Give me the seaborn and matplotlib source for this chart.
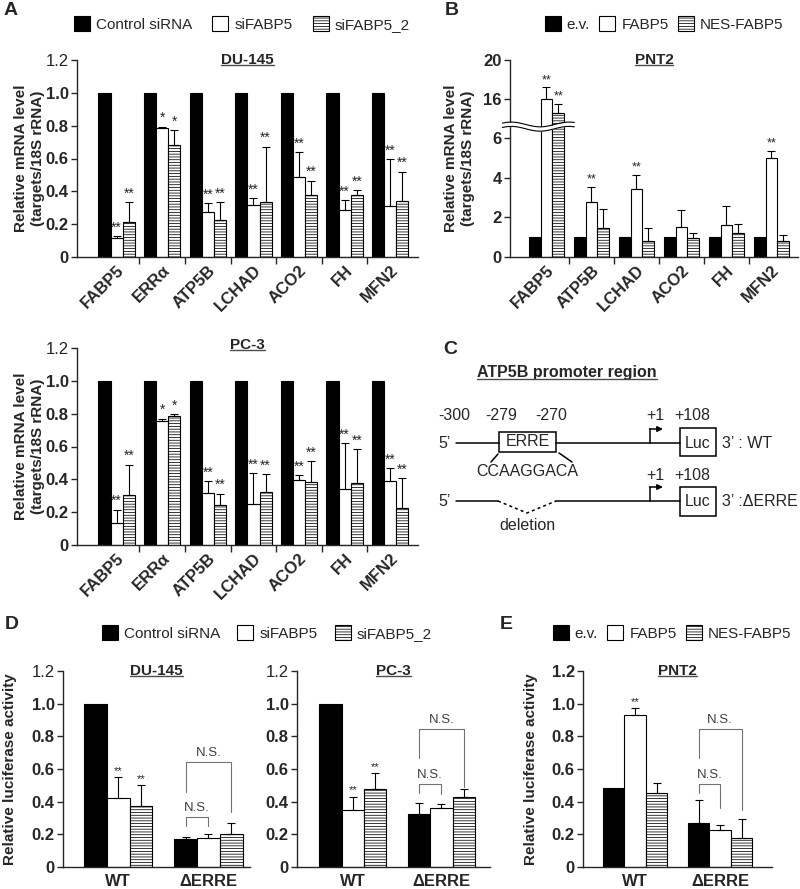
import numpy as np
import pandas as pd
import matplotlib
matplotlib.use("Agg")
import matplotlib.pyplot as plt
import matplotlib.transforms as mtransforms
from matplotlib.patches import Patch, Rectangle
from matplotlib.lines import Line2D
from matplotlib.ticker import FuncFormatter
import seaborn as sns

# -------------------
# Data
genes_A = ["FABP5", "ERRα", "ATP5B", "LCHAD", "ACO2", "FH", "MFN2"]
groups_si = ["Control siRNA", "siFABP5", "siFABP5_2"]

du145_ctrl = [1.0, 1.0, 1.0, 1.0, 1.0, 1.0, 1.0]
du145_si1 = [0.116, 0.786, 0.276, 0.316, 0.490, 0.286, 0.310]
du145_si1_sd = [0.011, 0.008, 0.051, 0.045, 0.147, 0.061, 0.288]
du145_si2 = [0.214, 0.680, 0.224, 0.333, 0.380, 0.378, 0.341]
du145_si2_sd = [0.119, 0.093, 0.109, 0.340, 0.085, 0.030, 0.179]
du145_si1_sig = ["**", "*", "**", "**", "**", "**", "**"]
du145_si2_sig = ["**", "*", "**", "**", "**", "**", "**"]

pc3_ctrl = [1.0, 1.0, 1.0, 1.0, 1.0, 1.0, 1.0]
pc3_si1 = [0.135, 0.754, 0.317, 0.248, 0.398, 0.343, 0.390]
pc3_si1_sd = [0.081, 0.016, 0.073, 0.192, 0.030, 0.279, 0.080]
pc3_si2 = [0.303, 0.784, 0.246, 0.323, 0.384, 0.376, 0.228]
pc3_si2_sd = [0.187, 0.014, 0.067, 0.111, 0.129, 0.210, 0.182]
pc3_si1_sig = ["**", "*", "**", "**", "**", "**", "**"]
pc3_si2_sig = ["**", "*", "**", "**", "**", "**", "**"]

genes_B = ["FABP5", "ATP5B", "LCHAD", "ACO2", "FH", "MFN2"]
groups_oe = ["e.v.", "FABP5", "NES-FABP5"]
pnt2_ev = [1.0, 1.0, 1.0, 1.0, 1.0, 1.0]
pnt2_fabp5 = [16.0, 2.80, 3.45, 1.52, 1.61, 4.99]
pnt2_fabp5_sd = [1.2, 0.74, 0.70, 0.86, 0.95, 0.38]
pnt2_nes = [14.6, 1.49, 0.80, 0.94, 1.21, 0.80]
pnt2_nes_sd = [0.9, 0.95, 0.65, 0.27, 0.48, 0.33]
pnt2_fabp5_sig = ["**", "**", "**", "", "", "**"]
pnt2_nes_sig = ["**", "", "", "", "", ""]

constructs = ["WT", "ΔERRE"]
luc_du145_ctrl = [1.0, 0.173]
luc_du145_ctrl_sd = [np.nan, 0.011]
luc_du145_si1 = [0.424, 0.180]
luc_du145_si1_sd = [0.127, 0.024]
luc_du145_si2 = [0.373, 0.204]
luc_du145_si2_sd = [0.127, 0.067]
luc_du145_sig = ["**", ""]

luc_pc3_ctrl = [1.0, 0.323]
luc_pc3_ctrl_sd = [np.nan, 0.069]
luc_pc3_si1 = [0.347, 0.360]
luc_pc3_si1_sd = [0.084, 0.026]
luc_pc3_si2 = [0.476, 0.427]
luc_pc3_si2_sd = [0.098, 0.051]
luc_pc3_sig = ["**", ""]

luc_pnt2_ev = [0.484, 0.269]
luc_pnt2_ev_sd = [np.nan, 0.139]
luc_pnt2_fabp5 = [0.929, 0.229]
luc_pnt2_fabp5_sd = [0.044, 0.030]
luc_pnt2_nes = [0.455, 0.180]
luc_pnt2_nes_sd = [0.059, 0.112]
luc_pnt2_fabp5_sig = ["**", ""]

# N.S. brackets on the ΔERRE group: (left series, right series, top, left leg end, right leg end)
ns_du145 = [(0, 1, 0.306, 0.25, 0.25), (0, 2, 0.643, 0.46, 0.337)]
ns_pc3 = [(0, 1, 0.508, 0.453, 0.45), (0, 2, 0.845, 0.667, 0.49)]
ns_pnt2 = [(0, 1, 0.508, 0.453, 0.36), (0, 2, 0.845, 0.667, 0.349)]

# -------------------
# Style
sns.set_style("ticks")
plt.rcParams["font.family"] = ["Liberation Sans", "DejaVu Sans"]
plt.rcParams["hatch.linewidth"] = 0.55
plt.rcParams["axes.linewidth"] = 1.0

W, H = 800, 889
fig = plt.figure(figsize=(W / 100, H / 100), dpi=100)
HATCH = "------"
bar_colors = ["black", "white", "white"]
TICK_FS = 12


def frame(l, t, r, b):
    return [l / W, 1 - b / H, (r - l) / W, (b - t) / H]


def tick_fmt(v, pos):
    return "0" if abs(v) < 1e-9 else f"{v:.1f}"


def draw_bars(ax, cats, groups, series, sds, sigs, width, star_size):
    df = pd.DataFrame({
        "cat": np.tile(cats, len(groups)),
        "grp": np.repeat(groups, len(cats)),
        "val": np.concatenate([np.asarray(s, float) for s in series]),
    })
    sns.barplot(data=df, x="cat", y="val", hue="grp", order=cats, hue_order=groups,
                palette=bar_colors, edgecolor="black", linewidth=0.8, width=width,
                errorbar=None, saturation=1, legend=False, ax=ax)
    bars = list(ax.containers[:len(groups)])
    for bar in bars[2]:
        bar.set_hatch(HATCH)
    for k, cont in enumerate(bars):
        sd = sds[k]
        sig = sigs[k]
        for j, bar in enumerate(cont):
            xc = bar.get_x() + bar.get_width() / 2
            top = bar.get_height()
            if sd is not None and not np.isnan(sd[j]):
                ax.errorbar([xc], [top], yerr=[[0], [sd[j]]], fmt="none", ecolor="black",
                            elinewidth=0.8, capsize=2.8, capthick=0.8, zorder=3)
                top = top + sd[j]
            if sig is not None and sig[j]:
                ax.annotate(sig[j], (xc, top), xytext=(0, 1), textcoords="offset points",
                            ha="center", va="bottom", fontsize=star_size)
    ax.set_xlabel("")
    ax.set_ylabel("")
    sns.despine(ax=ax)
    ax.tick_params(axis="y", length=4, width=1, pad=2, labelsize=TICK_FS)
    for lab in ax.get_yticklabels():
        lab.set_fontweight("bold")
    return bars


def title(ax, text, y=1.0):
    return ax.text(0.5, y, text, transform=ax.transAxes, ha="center", va="center",
                   fontsize=11, fontweight="bold")


def gene_axis(ax, n):
    ax.set_xticks(np.arange(n))
    ax.set_xticks(np.arange(n - 1) + 0.5, minor=True)
    ax.tick_params(axis="x", which="major", length=0, pad=4)
    ax.tick_params(axis="x", which="minor", length=5, width=1)
    for lab in ax.get_xticklabels():
        lab.set_rotation(45)
        lab.set_ha("right")
        lab.set_va("top")
        lab.set_rotation_mode("anchor")
        lab.set_fontweight("bold")
        lab.set_fontsize(TICK_FS)


underlined = []

# -------------------
# Panel A: DU-145 and PC-3 qPCR
for rect, ctrl, s1, s1sd, s2, s2sd, g1, g2, name, ty in [
    (frame(77, 60, 418, 257), du145_ctrl, du145_si1, du145_si1_sd, du145_si2, du145_si2_sd,
     du145_si1_sig, du145_si2_sig, "DU-145", 1.0),
    (frame(77, 348, 418, 545), pc3_ctrl, pc3_si1, pc3_si1_sd, pc3_si2, pc3_si2_sd,
     pc3_si1_sig, pc3_si2_sig, "PC-3", 1.015)]:
    ax = fig.add_axes(rect)
    draw_bars(ax, genes_A, groups_si, [ctrl, s1, s2], [None, s1sd, s2sd], [None, g1, g2], 0.80, 10)
    ax.set_ylim(0, 1.2)
    ax.set_yticks(np.arange(0, 1.21, 0.2))
    ax.yaxis.set_major_formatter(FuncFormatter(tick_fmt))
    ax.set_xlim(-0.87, 6.61)
    gene_axis(ax, len(genes_A))
    ax.set_ylabel("Relative mRNA level\n(targets/18S rRNA)", fontsize=11, fontweight="bold",
                  linespacing=1.3)
    ax.yaxis.set_label_coords(-0.094, 0.5)
    underlined.append(title(ax, name, ty))

# -------------------
# Panel B: PNT2 with broken axis
BRK_LO, BRK_HI, UP_RATIO, EPS = 6.6, 13.2, 0.495, 1e-3
MID = BRK_LO + (BRK_HI - BRK_LO) * EPS


def fwd(y):
    y = np.asarray(y, float)
    lo = np.minimum(y, BRK_LO)
    mid = np.clip(y, BRK_LO, BRK_HI) - BRK_LO
    hi = np.maximum(y, BRK_HI) - BRK_HI
    return lo + mid * EPS + hi * UP_RATIO


def inv(t):
    t = np.asarray(t, float)
    return np.where(t <= BRK_LO, t,
                    np.where(t <= MID, BRK_LO + (t - BRK_LO) / EPS, BRK_HI + (t - MID) / UP_RATIO))


axb = fig.add_axes(frame(510, 60, 798, 257))
draw_bars(axb, genes_B, groups_oe, [pnt2_ev, pnt2_fabp5, pnt2_nes],
          [None, pnt2_fabp5_sd, pnt2_nes_sd], [None, pnt2_fabp5_sig, pnt2_nes_sig], 0.78, 9)
axb.set_yscale("function", functions=(fwd, inv))
axb.set_ylim(0, 20)
axb.set_yticks([0, 2, 4, 6, 16, 20])
axb.set_yticklabels(["0", "2", "4", "6", "16", "20"], fontweight="bold")
axb.set_xlim(-0.81, 5.59)
gene_axis(axb, len(genes_B))
axb.set_ylabel("Relative mRNA level\n(targets/18S rRNA)", fontsize=11, fontweight="bold",
               linespacing=1.3)
axb.yaxis.set_label_coords(-0.122, 0.5)
underlined.append(title(axb, "PNT2"))

# break symbol across the axis and the FABP5 group
brk_frac = fwd(BRK_LO) / fwd(20)
trans = mtransforms.blended_transform_factory(axb.transData, axb.transAxes)
xs = np.linspace(-0.98, 0.62, 80)
wave = 0.012 * np.sin((xs + 0.98) / 1.6 * 2.5 * np.pi + 0.6)
gap = 0.011
axb.fill_between(xs, brk_frac + wave - gap, brk_frac + wave + gap, color="white",
                 transform=trans, zorder=6, clip_on=False, lw=0)
for off in (-gap, gap):
    axb.plot(xs, brk_frac + wave + off, color="black", lw=0.8, transform=trans,
             zorder=7, clip_on=False)

# -------------------
# Panels D and E: luciferase assays
luc_panels = [
    (frame(63, 671, 250, 867), (-0.61, 1.46), "DU-145",
     [luc_du145_ctrl, luc_du145_si1, luc_du145_si2],
     [luc_du145_ctrl_sd, luc_du145_si1_sd, luc_du145_si2_sd],
     [None, luc_du145_sig, luc_du145_sig], ns_du145, -0.245, groups_si),
    (frame(297, 671, 490, 867), (-0.63, 1.55), "PC-3",
     [luc_pc3_ctrl, luc_pc3_si1, luc_pc3_si2],
     [luc_pc3_ctrl_sd, luc_pc3_si1_sd, luc_pc3_si2_sd],
     [None, luc_pc3_sig, luc_pc3_sig], ns_pc3, None, groups_si),
    (frame(583, 671, 772, 867), (-0.61, 1.61), "PNT2",
     [luc_pnt2_ev, luc_pnt2_fabp5, luc_pnt2_nes],
     [luc_pnt2_ev_sd, luc_pnt2_fabp5_sd, luc_pnt2_nes_sd],
     [None, luc_pnt2_fabp5_sig, None], ns_pnt2, -0.24, groups_oe),
]
for rect, xlim, name, series, sds, sigs, brackets, ylab_x, groups in luc_panels:
    ax = fig.add_axes(rect)
    bars = draw_bars(ax, constructs, groups, series, sds, sigs, 0.76, 8)
    ax.set_ylim(0, 1.2)
    ax.set_yticks(np.arange(0, 1.21, 0.2))
    ax.yaxis.set_major_formatter(FuncFormatter(tick_fmt))
    ax.set_xlim(*xlim)
    ax.tick_params(axis="x", length=0, pad=5, labelsize=TICK_FS)
    for lab in ax.get_xticklabels():
        lab.set_fontweight("bold")
    if ylab_x is not None:
        ax.set_ylabel("Relative luciferase activity", fontsize=11, fontweight="bold")
        ax.yaxis.set_label_coords(ylab_x, 0.5)
    underlined.append(title(ax, name))
    for i, j, top, lbot, rbot in brackets:
        bi = bars[i][1]
        bj = bars[j][1]
        xi = bi.get_x() + bi.get_width() / 2
        xj = bj.get_x() + bj.get_width() / 2
        ax.plot([xi, xi, xj, xj], [lbot, top, top, rbot], color="0.45", lw=0.8, zorder=4)
        ax.annotate("N.S.", ((xi + xj) / 2, top), xytext=(0, 2.5), textcoords="offset points",
                    ha="center", va="bottom", fontsize=9.5, color="0.25")

# -------------------
# Legends
def legend_handles(labels):
    return [Patch(facecolor="black", edgecolor="black", lw=0.8, label=labels[0]),
            Patch(facecolor="white", edgecolor="black", lw=0.8, label=labels[1]),
            Patch(facecolor="white", edgecolor="black", lw=0.8, hatch=HATCH, label=labels[2])]


for labels, cx, cy, colsp in [(groups_si, 242, 24, 1.3), (groups_oe, 664, 24, 0.6),
                              (groups_si, 267, 633, 1.1), (groups_oe, 672, 633, 0.6)]:
    fig.legend(handles=legend_handles(labels), loc="center", ncol=3, frameon=False,
               bbox_to_anchor=(cx / W, 1 - cy / H), fontsize=11, handlelength=1.05,
               handleheight=1.05, handletextpad=0.4, columnspacing=colsp, borderpad=0)

# -------------------
# Panel letters and panel C diagram on a pixel canvas
cv = fig.add_axes([0, 0, 1, 1], zorder=-1)
cv.set_xlim(0, W)
cv.set_ylim(H, 0)
cv.axis("off")
for letter, lx, ly in [("A", 4, 2), ("B", 445, 2), ("C", 443, 341), ("D", 5, 616), ("E", 500, 616)]:
    cv.text(lx, ly, letter, fontsize=14, fontweight="bold", ha="left", va="top")

LW = 1.1
C_FS = 11.5
c_title = cv.text(477, 373, "ATP5B promoter region", fontsize=11.5, fontweight="bold",
                  ha="left", va="center")
underlined.append(c_title)
for txt, x in [("-300", 454), ("-279", 501), ("-270", 551), ("+1", 655), ("+108", 692)]:
    cv.text(x, 415, txt, fontsize=C_FS, ha="center", va="center")
for txt, x in [("+1", 655), ("+108", 692)]:
    cv.text(x, 475, txt, fontsize=C_FS, ha="center", va="center")

# WT construct
cv.text(445, 443, "5’", fontsize=C_FS, ha="center", va="center")
cv.plot([456, 499], [443, 443], color="k", lw=LW)
cv.add_patch(Rectangle((499, 432), 57, 20, fill=False, lw=LW, ec="k"))
cv.text(527.5, 442, "ERRE", fontsize=C_FS, ha="center", va="center")
cv.plot([556, 680], [443, 443], color="k", lw=LW)
cv.add_patch(Rectangle((680, 428), 36, 28, fill=False, lw=LW, ec="k"))
cv.text(698, 443, "Luc", fontsize=C_FS, ha="center", va="center")
cv.text(722, 443, "3’ : WT", fontsize=C_FS, ha="left", va="center")
cv.plot([498, 491], [454, 462], color="k", lw=LW)
cv.plot([559, 572], [453, 462], color="k", lw=LW)
cv.text(527, 472, "CCAAGGACA", fontsize=C_FS, ha="center", va="center")

# ΔERRE construct
cv.text(445, 501, "5’", fontsize=C_FS, ha="center", va="center")
cv.plot([456, 498], [501, 501], color="k", lw=LW)
cv.plot([498, 527, 556], [501, 513, 501], color="k", lw=LW, ls=(0, (2, 2)))
cv.plot([556, 680], [501, 501], color="k", lw=LW)
cv.add_patch(Rectangle((680, 487), 36, 29, fill=False, lw=LW, ec="k"))
cv.text(698, 502, "Luc", fontsize=C_FS, ha="center", va="center")
cv.text(722, 501, "3’ :ΔERRE", fontsize=C_FS, ha="left", va="center")
cv.text(527, 526, "deletion", fontsize=C_FS, ha="center", va="center")

# transcription start arrows
for base, tip in [(443, 429), (501, 487)]:
    cv.plot([650, 650], [base, tip], color="k", lw=LW)
    cv.annotate("", xy=(663, tip), xytext=(649.5, tip),
                arrowprops=dict(arrowstyle="-|>", lw=LW, color="k", mutation_scale=8,
                                shrinkA=0, shrinkB=0))

# -------------------
# Underline titles
fig.canvas.draw()
renderer = fig.canvas.get_renderer()
inv_fig = fig.transFigure.inverted()
for t in underlined:
    bb = t.get_window_extent(renderer)
    yline = bb.y0 + 0.12 * bb.height
    (x0, y0), (x1, y1) = inv_fig.transform([(bb.x0, yline), (bb.x1, yline)])
    fig.add_artist(Line2D([x0, x1], [y0, y1], transform=fig.transFigure, color="0.3", lw=1.0))

fig.savefig("out.png", dpi=100)
